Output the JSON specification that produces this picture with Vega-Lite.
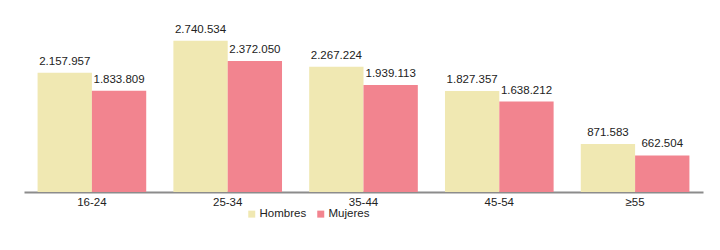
{
  "$schema": "https://vega.github.io/schema/vega-lite/v6.json",
  "width": 679,
  "height": 192,
  "autosize": {"type": "none"},
  "padding": {"left": 24, "top": 0, "right": 17, "bottom": 58},
  "background": "white",
  "config": {
    "view": {"stroke": null},
    "font": "Liberation Sans",
    "locale": {"number": {"decimal": ",", "thousands": ".", "grouping": [3], "currency": ["", " €"]}}
  },
  "data": {
    "values": [
      {"edad": "16-24", "sexo": "Hombres", "valor": 2157957},
      {"edad": "16-24", "sexo": "Mujeres", "valor": 1833809},
      {"edad": "25-34", "sexo": "Hombres", "valor": 2740534},
      {"edad": "25-34", "sexo": "Mujeres", "valor": 2372050},
      {"edad": "35-44", "sexo": "Hombres", "valor": 2267224},
      {"edad": "35-44", "sexo": "Mujeres", "valor": 1939113},
      {"edad": "45-54", "sexo": "Hombres", "valor": 1827357},
      {"edad": "45-54", "sexo": "Mujeres", "valor": 1638212},
      {"edad": "≥55", "sexo": "Hombres", "valor": 871583},
      {"edad": "≥55", "sexo": "Mujeres", "valor": 662504}
    ]
  },
  "encoding": {
    "x": {
      "field": "edad", "type": "nominal", "sort": null,
      "scale": {"paddingInner": 0.2, "paddingOuter": 0.1},
      "axis": {
        "title": null, "labelAngle": 0, "ticks": false, "grid": false,
        "domainColor": "#8c8c8c", "domainWidth": 2,
        "labelFontSize": 11.5, "labelColor": "#222222", "labelPadding": 4
      }
    },
    "xOffset": {"field": "sexo", "type": "nominal", "sort": ["Hombres", "Mujeres"]},
    "y": {
      "field": "valor", "type": "quantitative",
      "scale": {"domain": [0, 3478000], "nice": false},
      "axis": null
    }
  },
  "layer": [
    {
      "mark": {"type": "bar"},
      "encoding": {
        "color": {
          "field": "sexo", "type": "nominal",
          "scale": {"domain": ["Hombres", "Mujeres"], "range": ["#F0E8B2", "#F2848F"]},
          "legend": {
            "title": null, "orient": "none", "direction": "horizontal",
            "legendX": 222, "legendY": 208,
            "symbolType": "square", "symbolSize": 49, "symbolStrokeWidth": 0,
            "labelFontSize": 11.5, "labelColor": "#222222", "labelOffset": 2,
            "columnPadding": 8
          }
        }
      }
    },
    {
      "mark": {"type": "text", "baseline": "alphabetic", "dy": -8, "fontSize": 11.5, "color": "#222222"},
      "encoding": {
        "text": {"field": "valor", "type": "quantitative", "format": ",d"}
      }
    }
  ]
}
